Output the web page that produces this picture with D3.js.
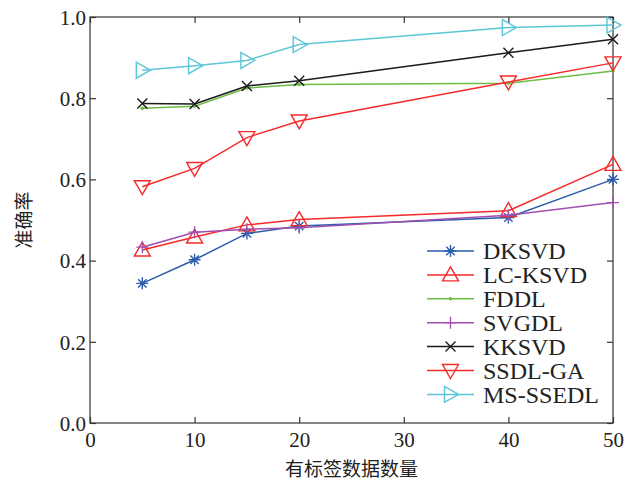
<!DOCTYPE html>
<html>
<head>
<meta charset="utf-8">
<script src="https://cdn.jsdelivr.net/npm/d3@7"></script>
<style>
  body { margin: 0; background: #fff; overflow: hidden; }
  svg { display: block; }
  text { font-family: "Liberation Serif", "Times New Roman", serif; fill: #222; }
  .cjk { font-family: "Noto Sans CJK SC", sans-serif; }
</style>
</head>
<body>
<svg id="drawing_region"></svg>
<script>
var width = 628;
var height = 489;
var margin = {top: 17, right: 15, bottom: 66, left: 90};

// data
const xValues = [5, 10, 15, 20, 40, 50];
const dksvd   = [0.344, 0.402, 0.467, 0.485, 0.506, 0.600];
const lcksvd  = [0.426, 0.458, 0.488, 0.501, 0.523, 0.637];
const fddl    = [0.775, 0.780, 0.825, 0.834, 0.837, 0.867];
const svgdl   = [0.433, 0.470, 0.477, 0.481, 0.512, 0.543];
const kksvd   = [0.787, 0.786, 0.830, 0.843, 0.912, 0.945];
const ssdlga  = [0.582, 0.627, 0.703, 0.744, 0.840, 0.887];
const msssedl = [0.869, 0.880, 0.893, 0.932, 0.974, 0.980];
const seriesNames = ['DKSVD', 'LC-KSVD', 'FDDL', 'SVGDL', 'KKSVD', 'SSDL-GA', 'MS-SSEDL'];
const xTicks = [0, 10, 20, 30, 40, 50];
const yTicks = [0, 0.2, 0.4, 0.6, 0.8, 1.0];

const series = [
  {name: seriesNames[0], values: dksvd,   color: '#2a5caa', marker: 'star'},
  {name: seriesNames[1], values: lcksvd,  color: '#f52a2a', marker: 'triUp'},
  {name: seriesNames[2], values: fddl,    color: '#6cbd45', marker: 'dot'},
  {name: seriesNames[3], values: svgdl,   color: '#a04fb0', marker: 'plus'},
  {name: seriesNames[4], values: kksvd,   color: '#1a1a1a', marker: 'cross'},
  {name: seriesNames[5], values: ssdlga,  color: '#f52a2a', marker: 'triDown'},
  {name: seriesNames[6], values: msssedl, color: '#5cc6d6', marker: 'triRight'}
];

var svg = d3.select('#drawing_region')
      .attr('width', width)
      .attr('height', height);

var chart = svg.append('g')
      .attr('transform', `translate(${margin.left}, ${margin.top})`);

const innerWidth = width - margin.left - margin.right;
const innerHeight = height - margin.top - margin.bottom;

const xscale = d3.scaleLinear().domain([0, 50]).range([0, innerWidth]);
const yscale = d3.scaleLinear().domain([0, 1]).range([innerHeight, 0]);

// frame
chart.append('rect')
      .attr('width', innerWidth).attr('height', innerHeight)
      .attr('fill', 'none').attr('stroke', '#333').attr('stroke-width', 1.2);

const tickLen = 6;
const fmt = d3.format('.1f');

const xAxis = d3.axisBottom(xscale).tickValues(xTicks).tickSize(-tickLen).tickPadding(9);
const yAxis = d3.axisLeft(yscale).tickValues(yTicks).tickSize(-tickLen).tickPadding(4).tickFormat(fmt);

const gx = chart.append('g').attr('transform', `translate(0, ${innerHeight})`).call(xAxis);
const gy = chart.append('g').call(yAxis);
const gxt = chart.append('g').call(d3.axisTop(xscale).tickValues(xTicks).tickSize(-tickLen));
const gyr = chart.append('g').attr('transform', `translate(${innerWidth}, 0)`)
      .call(d3.axisRight(yscale).tickValues(yTicks).tickSize(-tickLen));
gxt.selectAll('text').remove();
gyr.selectAll('text').remove();

[gx, gy, gxt, gyr].forEach(g => {
  g.select('.domain').remove();
  g.selectAll('line').attr('stroke', '#333').attr('stroke-width', 1.2);
  g.selectAll('text').attr('font-size', 21).attr('fill', '#222')
    .attr('font-family', '"Liberation Serif", serif');
});
gy.selectAll('text').attr('dy', '0.35em');

const line = d3.line()
      .x((d, i) => xscale(xValues[i]))
      .y(d => yscale(d));

function drawMarker(g, type, color) {
  const s = 6;
  if (type === 'star') {
    g.append('path').attr('d', `M${-s},0H${s}M0,${-s}V${s}M${-s*0.7},${-s*0.7}L${s*0.7},${s*0.7}M${-s*0.7},${s*0.7}L${s*0.7},${-s*0.7}`)
      .attr('stroke', color).attr('stroke-width', 1.4).attr('fill', 'none');
  } else if (type === 'triUp') {
    g.append('path').attr('d', `M0,${-8}L${8},${6}L${-8},${6}Z`)
      .attr('stroke', color).attr('stroke-width', 1.4).attr('fill', 'none');
  } else if (type === 'triDown') {
    g.append('path').attr('d', `M0,${8}L${8},${-6}L${-8},${-6}Z`)
      .attr('stroke', color).attr('stroke-width', 1.4).attr('fill', 'none');
  } else if (type === 'triRight') {
    g.append('path').attr('d', `M${8},0L${-6},${-8}L${-6},${8}Z`)
      .attr('stroke', color).attr('stroke-width', 1.4).attr('fill', 'none');
  } else if (type === 'dot') {
    g.append('circle').attr('r', 1.8).attr('fill', color);
  } else if (type === 'plus') {
    g.append('path').attr('d', `M${-s},0H${s}M0,${-s}V${s}`)
      .attr('stroke', color).attr('stroke-width', 1.3).attr('fill', 'none');
  } else if (type === 'cross') {
    g.append('path').attr('d', `M${-5},${-5}L5,5M${-5},5L5,${-5}`)
      .attr('stroke', color).attr('stroke-width', 1.4).attr('fill', 'none');
  }
}

series.forEach(s => {
  chart.append('path')
        .attr('d', line(s.values))
        .attr('stroke', s.color)
        .attr('stroke-width', 1.5)
        .attr('fill', 'none');
  s.values.forEach((v, i) => {
    const g = chart.append('g').attr('transform', `translate(${xscale(xValues[i])}, ${yscale(v)})`);
    drawMarker(g, s.marker, s.color);
  });
});

// legend
const legend = svg.append('g').attr('transform', 'translate(427, 251)');
series.forEach((s, i) => {
  const row = legend.append('g').attr('transform', `translate(0, ${i * 23.9})`);
  row.append('line').attr('x1', 0).attr('x2', 47).attr('stroke', s.color).attr('stroke-width', 1.5);
  drawMarker(row.append('g').attr('transform', 'translate(23.5, 0)'), s.marker, s.color);
  row.append('text').attr('x', 56).attr('dy', '0.35em').attr('font-size', 24).text(s.name);
});

// axis titles
svg.append('text').attr('class', 'cjk')
      .attr('x', margin.left + innerWidth / 2).attr('y', 476)
      .attr('text-anchor', 'middle').attr('font-size', 19)
      .text('有标签数据数量');

svg.append('text').attr('class', 'cjk')
      .attr('transform', `translate(31, ${margin.top + innerHeight / 2}) rotate(-90)`)
      .attr('text-anchor', 'middle').attr('font-size', 19)
      .text('准确率');
</script>
</body>
</html>
